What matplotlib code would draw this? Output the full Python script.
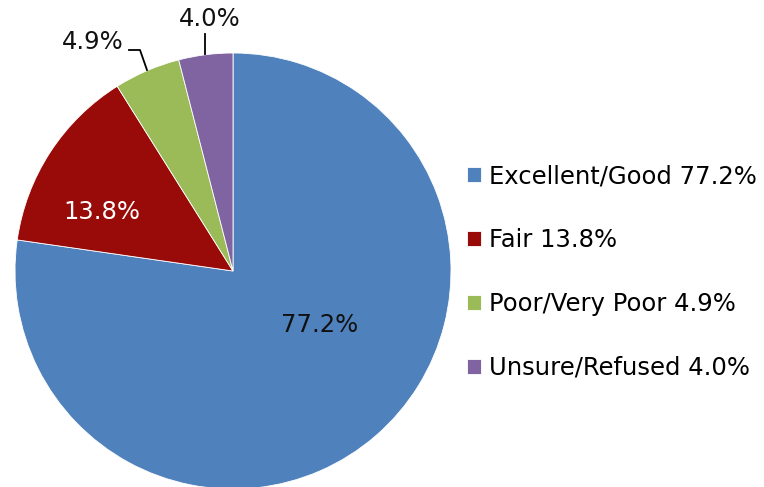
import matplotlib
matplotlib.use("Agg")
import matplotlib.pyplot as plt

categories = ["Excellent/Good", "Fair", "Poor/Very Poor", "Unsure/Refused"]
values = [77.2, 13.8, 4.9, 4.0]
colors = ["#4F81BD", "#990B09", "#9BBB59", "#8064A2"]

plt.rcParams['font.family'] = ['DejaVu Sans']

W, H = 764, 487
fig = plt.figure(figsize=(W / 100, H / 100), dpi=100)
ax = fig.add_axes([0, 0, 1, 1])

cx, cy, r = 233, H - 271, 218
wedges, _ = ax.pie(values, colors=colors, startangle=90, counterclock=False,
                   center=(cx, cy), radius=r,
                   wedgeprops=dict(edgecolor="white", linewidth=0.6))
ax.set_xlim(0, W)
ax.set_ylim(0, H)
ax.set_aspect('equal')
ax.axis('off')

fs = 17.5
labels = [f"{v:.1f}%" for v in values]
# inside labels
ax.text(320, H - 325, labels[0], fontsize=fs, color="#111111", ha="center", va="center")
ax.text(102, H - 212, labels[1], fontsize=fs, color="white", ha="center", va="center")
# outside labels with leader lines
ax.text(93, H - 42, labels[2], fontsize=fs, color="#111111", ha="center", va="center")
ax.plot([129, 140, 147], [H - 50, H - 50, H - 70], color="black", lw=1.3)
ax.text(210, H - 19, labels[3], fontsize=fs, color="#111111", ha="center", va="center")
ax.plot([205, 205], [H - 34, H - 54], color="black", lw=1.3)

leg_labels = [f"{c} {l}" for c, l in zip(categories, labels)]
ax.legend(wedges, leg_labels, loc="center left", bbox_to_anchor=(467 / W, 1 - 272 / H),
          frameon=False, fontsize=fs, handlelength=0.56, handleheight=0.56,
          handletextpad=0.35, labelspacing=1.64, borderpad=0, borderaxespad=0)

fig.savefig("out.png", dpi=100)
